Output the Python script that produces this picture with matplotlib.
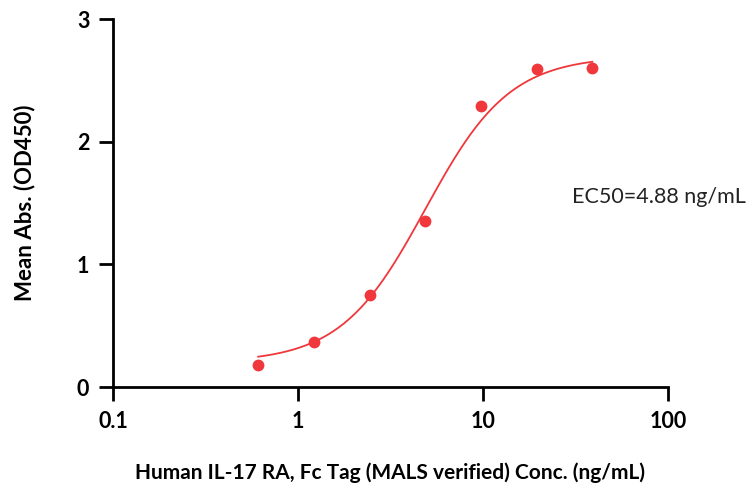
import numpy as np
import matplotlib
matplotlib.use("Agg")
import matplotlib.pyplot as plt
from matplotlib.ticker import FixedLocator, NullLocator

CONC       = [0.61, 1.22, 2.44, 4.88, 9.77, 19.53, 39.06]
MEAN_ABS   = [0.18, 0.37, 0.75, 1.35, 2.29, 2.59, 2.60]
X_TICKS    = [0.1, 1, 10, 100]
X_LABELS   = ['0.1', '1', '10', '100']
Y_TICKS    = [0, 1, 2, 3]

# 4PL fit parameters
BOTTOM, TOP, EC50, HILL = 0.20, 2.70, 4.88, 1.9

RED = '#f0373c'

plt.rcParams['font.family'] = ['Lato', 'DejaVu Sans']

fig = plt.figure(figsize=(7.53, 4.92), dpi=100)
ax = fig.add_axes([0.150, 0.2134, 0.737, 0.7476])

xs = np.logspace(np.log10(CONC[0]), np.log10(CONC[-1]), 300)
fit = BOTTOM + (TOP - BOTTOM) / (1 + (EC50 / xs) ** HILL)
ax.plot(xs, fit, color=RED, lw=1.3)
ax.plot(CONC, MEAN_ABS, 'o', color=RED, ms=8.5, mec='none')

ax.set_xscale('log')
ax.set_xlim(0.1, 100)
ax.set_ylim(0, 3)
ax.xaxis.set_major_locator(FixedLocator(X_TICKS))
ax.xaxis.set_minor_locator(NullLocator())
ax.set_xticklabels(X_LABELS)
ax.set_yticks(Y_TICKS)

for s in ['top', 'right']:
    ax.spines[s].set_visible(False)
for s in ['left', 'bottom']:
    ax.spines[s].set_linewidth(2.0)
ax.tick_params(width=2.0, length=10, labelsize=15.5, pad=7)
for lab in ax.get_xticklabels() + ax.get_yticklabels():
    lab.set_fontweight('bold')

ax.set_xlabel('Human IL-17 RA, Fc Tag (MALS verified) Conc. (ng/mL)',
              fontsize=15, fontweight='bold')
ax.set_ylabel('Mean Abs. (OD450)', fontsize=16, fontweight='bold')
ax.xaxis.set_label_coords(0.5, -0.204)
ax.yaxis.set_label_coords(-0.14, 0.5)

ax.text(0.99, 0.6, 'EC50=4.88 ng/mL', transform=fig.transFigure,
        ha='right', va='center', fontsize=15.5, color='#222222')

fig.savefig('out.png', dpi=100)
